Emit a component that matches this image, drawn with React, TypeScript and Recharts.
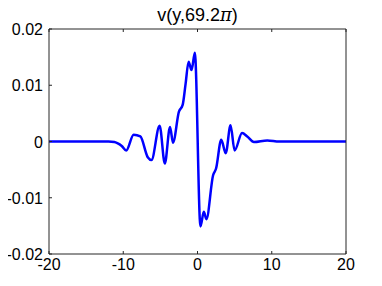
import React from "react";
import { LineChart, Line, XAxis, YAxis } from "recharts";

const yPos = [-20, -12, -11.2, -10.8, -10.2, -9.6, -8.6, -7.7, -6.7, -6.2, -5.1, -4.4, -3.7, -3.3, -2.5, -2.0, -1.6, -1.2, -0.8, -0.36, 0.4, 0.85, 1.2, 2.1, 2.5, 3.2, 3.8, 4.45, 5.0, 6.0, 6.7, 7.6, 9.4, 11, 20];
const vVal = [0, 0, -0.0001, -0.0003, -0.0008, -0.0016, 0.0012, 0.0009, -0.0028, -0.0033, 0.0028, -0.0039, 0.0026, -0.0002, 0.0053, 0.0065, 0.0103, 0.0142, 0.0127, 0.0158, -0.0151, -0.0125, -0.0138, -0.006, -0.0048, 0.0003, -0.0021, 0.0029, -0.0016, 0.0015, 0.0009, -0.0001, 0.0002, 0, 0];
const xTicks = [-20, -10, 0, 10, 20];
const yTicks = [-0.02, -0.01, 0, 0.01, 0.02];
const yTickLabels = ["-0.02", "-0.01", "0", "0.01", "0.02"];

const data = yPos.map((y, i) => ({ y, v: vVal[i] }));

const AX = "#262626";
const FONT = "'Liberation Sans', Arial, sans-serif";

const BottomTick = (p: any) => (
  <text x={p.x} y={p.y + 16} textAnchor="middle" fontSize={16} fontFamily={FONT} fill="#000">
    {String(p.payload.value)}
  </text>
);
const LeftTick = (p: any) => {
  const idx = yTicks.indexOf(p.payload.value);
  return (
    <text x={p.x - 6} y={p.y + 6} textAnchor="end" fontSize={16} fontFamily={FONT} fill="#000">
      {idx >= 0 ? yTickLabels[idx] : String(p.payload.value)}
    </text>
  );
};

export default function App() {
  return (
    <div style={{ position: "relative", width: 382, height: 286, margin: "-8px 0 0 -8px" }}>
      <LineChart width={382} height={286} data={data} margin={{ top: 9, right: 16, bottom: 0, left: 0 }}>
        <XAxis
          xAxisId="b"
          dataKey="y"
          type="number"
          domain={[-20, 20]}
          ticks={xTicks}
          height={32}
          tickSize={-3}
          tickMargin={3}
          stroke={AX}
          tick={<BottomTick />}
        />
        <XAxis
          xAxisId="t"
          dataKey="y"
          type="number"
          domain={[-20, 20]}
          ticks={xTicks}
          orientation="top"
          height={20}
          tickSize={-3}
          stroke={AX}
          tickFormatter={() => ""}
        />
        <YAxis
          yAxisId="l"
          type="number"
          domain={[-0.02, 0.02]}
          ticks={yTicks}
          width={49}
          tickSize={-3}
          tickMargin={3}
          stroke={AX}
          tick={<LeftTick />}
        />
        <YAxis
          yAxisId="r"
          type="number"
          domain={[-0.02, 0.02]}
          ticks={yTicks}
          orientation="right"
          width={20}
          tickSize={-3}
          stroke={AX}
          tickFormatter={() => ""}
        />
        <Line
          xAxisId="b"
          yAxisId="l"
          dataKey="v"
          type="monotone"
          stroke="#0000ff"
          strokeWidth={2.5}
          dot={false}
          isAnimationActive={false}
        />
      </LineChart>
      <div
        style={{
          position: "absolute",
          left: 49,
          width: 297,
          top: 5,
          textAlign: "center",
          fontFamily: FONT,
          fontSize: 18,
          lineHeight: "20px",
          color: "#000",
        }}
      >
        v(y,69.2<span style={{ fontStyle: "italic", fontFamily: "'DejaVu Serif', serif" }}>π</span>)
      </div>
    </div>
  );
}
